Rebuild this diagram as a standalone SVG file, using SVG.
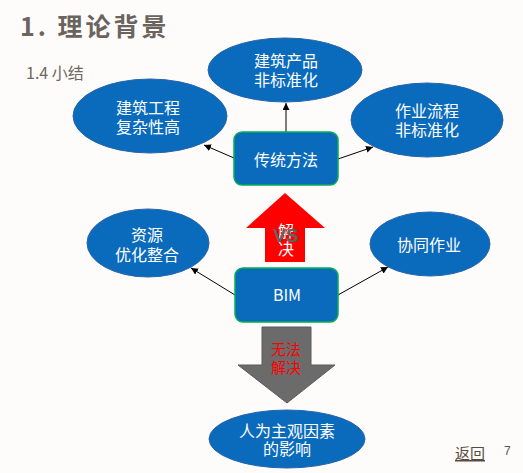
<svg xmlns="http://www.w3.org/2000/svg" width="523" height="473" viewBox="0 0 523 473">
<style>
.el{fill:#0A6BBD;stroke:#2A64A8;stroke-width:1}
.bx{fill:#0A6BBD;stroke:#00B050;stroke-width:1.5}
.t{font-family:"Noto Sans CJK SC","Liberation Sans",sans-serif;font-size:16px;fill:#FFFFFF;text-anchor:middle}
.c{stroke:#000;stroke-width:1;fill:none;marker-end:url(#ah)}
</style>
<defs>
<marker id="ah" markerUnits="userSpaceOnUse" markerWidth="8" markerHeight="8" refX="7" refY="3.5" orient="auto">
<path d="M0,0 L7,3.5 L0,7 Z" fill="#000"/>
</marker>
</defs>
<rect width="523" height="473" fill="#FDFCFB"/>
<g id="title">
<text x="20" y="36" font-family="Noto Sans CJK SC,Liberation Sans,sans-serif" font-size="25" font-weight="bold" fill="#6B645E" letter-spacing="3">1. 理论背景</text>
<text x="26" y="79" font-family="Noto Sans CJK SC,Liberation Sans,sans-serif" font-size="16" fill="#6F665E">1.4 小结</text>
</g>
<g id="connectors">
<line class="c" x1="286" y1="132" x2="286" y2="103"/>
<line class="c" x1="234" y1="158" x2="204" y2="145"/>
<line class="c" x1="338" y1="159" x2="373" y2="147"/>
<line class="c" x1="235" y1="295" x2="191" y2="268"/>
<line class="c" x1="338" y1="295" x2="388" y2="267"/>
</g>
<g id="n_product">
<ellipse class="el" cx="285" cy="70" rx="77" ry="32"/>
<text class="t" x="286" y="67">建筑产品</text>
<text class="t" x="286" y="86">非标准化</text>
</g>
<g id="n_complex">
<ellipse class="el" cx="150" cy="116" rx="77" ry="37"/>
<text class="t" x="148" y="114">建筑工程</text>
<text class="t" x="148" y="133">复杂性高</text>
</g>
<g id="n_process">
<ellipse class="el" cx="427" cy="120" rx="76" ry="37"/>
<text class="t" x="427" y="117">作业流程</text>
<text class="t" x="427" y="136">非标准化</text>
</g>
<g id="n_traditional">
<rect class="bx" x="234" y="132" width="104" height="53" rx="8"/>
<text class="t" x="286" y="166">传统方法</text>
</g>
<g id="up_arrow">
<path d="M285,193 L325,228 L305,228 L305,262 L265,262 L265,228 L246,228 Z" fill="#FF0000"/>
<text class="t" x="286" y="237">解</text>
<text class="t" x="286" y="255">决</text>
<text x="286" y="242" text-anchor="middle" font-family="Liberation Sans,sans-serif" font-size="19" font-weight="bold" fill="#606060">VS</text>
</g>
<g id="n_resource">
<ellipse class="el" cx="148" cy="243" rx="61" ry="34"/>
<text class="t" x="147" y="241">资源</text>
<text class="t" x="147" y="261">优化整合</text>
</g>
<g id="n_collab">
<ellipse class="el" cx="430" cy="244" rx="60" ry="32"/>
<text class="t" x="429" y="251">协同作业</text>
</g>
<g id="n_bim">
<rect class="bx" x="235" y="268" width="103" height="54" rx="8"/>
<text class="t" x="287" y="301" font-family="Liberation Sans,sans-serif" font-size="17">BIM</text>
</g>
<g id="down_arrow">
<path d="M262,327 L311,327 L311,365 L335,365 L287,403 L238,365 L262,365 Z" fill="#6B6B6B" stroke="#5A5A5A" stroke-width="1"/>
<text class="t" x="286" y="355" style="fill:#FF0000;font-size:15px">无法</text>
<text class="t" x="286" y="373" style="fill:#FF0000;font-size:15px">解决</text>
</g>
<g id="n_human">
<ellipse class="el" cx="287" cy="439" rx="78" ry="29"/>
<text class="t" x="287" y="437">人为主观因素</text>
<text class="t" x="287" y="455">的影响</text>
</g>
<g id="footer">
<text x="455" y="459" font-family="Noto Sans CJK SC,Liberation Sans,sans-serif" font-size="15" fill="#5A4A3C" text-decoration="underline">返回</text>
<text x="504" y="455" font-family="Liberation Sans,sans-serif" font-size="12" fill="#4A5868">7</text>
</g>
</svg>
